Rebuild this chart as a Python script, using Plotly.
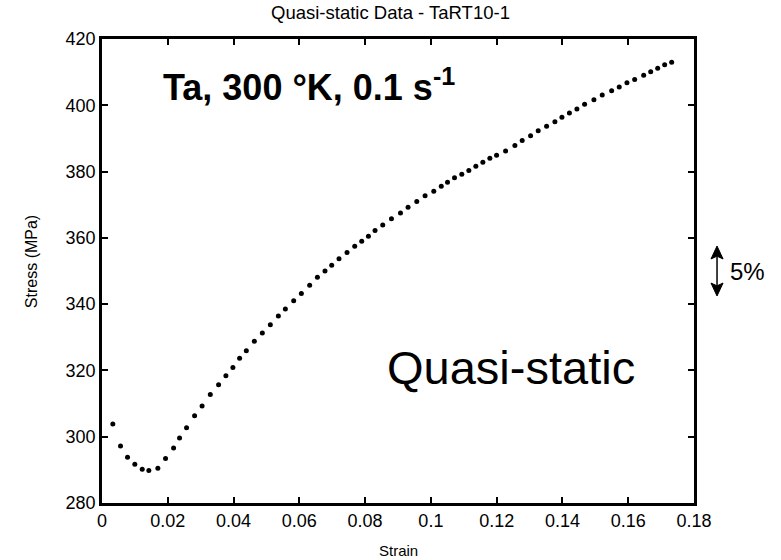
import plotly.graph_objects as go

strain = [0.00329, 0.00563, 0.00776, 0.00998, 0.01223, 0.01424, 0.01698, 0.01932, 0.02176, 0.02358,
          0.02571, 0.02815, 0.03043, 0.03293, 0.03545, 0.03767, 0.03980, 0.04184, 0.04388, 0.04632,
          0.04875, 0.05118, 0.05362, 0.05575, 0.05828, 0.06062, 0.06314, 0.06549, 0.06780, 0.06984,
          0.07206, 0.07450, 0.07684, 0.07897, 0.08101, 0.08302, 0.08536, 0.08801, 0.09075, 0.09306,
          0.09571, 0.09823, 0.10088, 0.10316, 0.10505, 0.10718, 0.10940, 0.11154, 0.11367, 0.11580,
          0.11793, 0.11997, 0.12271, 0.12554, 0.12776, 0.13031, 0.13263, 0.13518, 0.13771, 0.13984,
          0.14212, 0.14440, 0.14674, 0.14957, 0.15210, 0.15496, 0.15727, 0.15961, 0.16196, 0.16470,
          0.16683, 0.16896, 0.17108, 0.17321]
stress = [303.8, 297.2, 293.8, 291.7, 290.2, 289.8, 290.5, 293.4, 296.6, 299.6,
          302.7, 306.3, 309.3, 312.7, 315.7, 318.4, 320.9, 323.7, 325.9, 328.8,
          331.3, 333.8, 336.4, 338.5, 341.0, 343.2, 345.7, 348.1, 350.0, 351.7,
          353.7, 355.6, 357.5, 359.0, 360.5, 362.2, 363.9, 365.8, 367.5, 369.2,
          371.0, 372.7, 374.1, 375.6, 376.8, 378.1, 379.2, 380.3, 381.6, 382.8,
          384.0, 384.9, 386.2, 387.9, 389.4, 390.8, 392.3, 393.7, 395.0, 396.4,
          397.7, 398.9, 400.3, 401.7, 403.1, 404.4, 405.5, 406.8, 407.8, 409.1,
          410.1, 411.2, 412.2, 413.0]

x_ticks = [0, 0.02, 0.04, 0.06, 0.08, 0.1, 0.12, 0.14, 0.16, 0.18]
x_labels = ["0", "0.02", "0.04", "0.06", "0.08", "0.1", "0.12", "0.14", "0.16", "0.18"]
y_ticks = [280, 300, 320, 340, 360, 380, 400, 420]
y_labels = [str(v) for v in y_ticks]

FONT = "Liberation Sans, Arial, sans-serif"

fig = go.Figure()
fig.add_trace(go.Scatter(x=strain, y=stress, mode="markers",
                         marker=dict(color="black", size=5, line=dict(width=0)),
                         showlegend=False, hoverinfo="skip"))

axis_common = dict(showline=True, linecolor="black", linewidth=2.5, mirror="ticks",
                   ticks="inside", ticklen=6, tickwidth=2, tickcolor="black",
                   showgrid=False, zeroline=False, automargin=False,
                   tickfont=dict(family=FONT, size=18, color="black"))

fig.update_xaxes(range=[0, 0.18], tickvals=x_ticks, ticktext=x_labels, **axis_common)
fig.update_yaxes(range=[280, 420], tickvals=y_ticks, ticktext=y_labels, **axis_common)

fig.update_layout(
    width=781, height=560,
    margin=dict(l=102, r=87, t=39, b=57, autoexpand=False),
    paper_bgcolor="white", plot_bgcolor="white",
    title=dict(text="Quasi-static Data - TaRT10-1", x=0.5, xanchor="center",
               y=0.977, yanchor="middle",
               font=dict(family=FONT, size=18.5, color="black")),
    annotations=[
        dict(text="Strain", xref="paper", yref="paper", x=0.5, y=-0.1013,
             xanchor="center", yanchor="middle", showarrow=False,
             font=dict(family=FONT, size=15, color="black")),
        dict(text="Stress (MPa)", xref="paper", yref="paper", x=-0.1192, y=0.52,
             xanchor="center", yanchor="middle", showarrow=False, textangle=-90,
             font=dict(family=FONT, size=16, color="black")),
        dict(text="<b>Ta, 300 °K, 0.1 s<sup>-1</sup></b>", xref="paper", yref="paper",
             x=0.1, y=0.9, xanchor="left", yanchor="middle", showarrow=False,
             font=dict(family=FONT, size=36, color="black")),
        dict(text="Quasi-static", xref="paper", yref="paper",
             x=0.691, y=0.291, xanchor="center", yanchor="middle", showarrow=False,
             font=dict(family=FONT, size=47, color="black")),
        dict(text="5%", xref="paper", yref="paper",
             x=1.058, y=0.5, xanchor="left", yanchor="middle", showarrow=False,
             font=dict(family=FONT, size=24, color="black")),
    ],
    shapes=[
        dict(type="line", xref="paper", yref="paper", x0=1.0389, x1=1.0389, y0=0.47, y1=0.53,
             line=dict(color="black", width=1.5)),
        dict(type="path", xref="paper", yref="paper",
             path="M 1.0389 0.5539 L 1.0287 0.5259 L 1.0389 0.5320 L 1.0491 0.5259 Z",
             fillcolor="black", line=dict(color="black", width=1)),
        dict(type="path", xref="paper", yref="paper",
             path="M 1.0389 0.4461 L 1.0287 0.4741 L 1.0389 0.4680 L 1.0491 0.4741 Z",
             fillcolor="black", line=dict(color="black", width=1)),
    ],
)

fig.write_html("out.html")
